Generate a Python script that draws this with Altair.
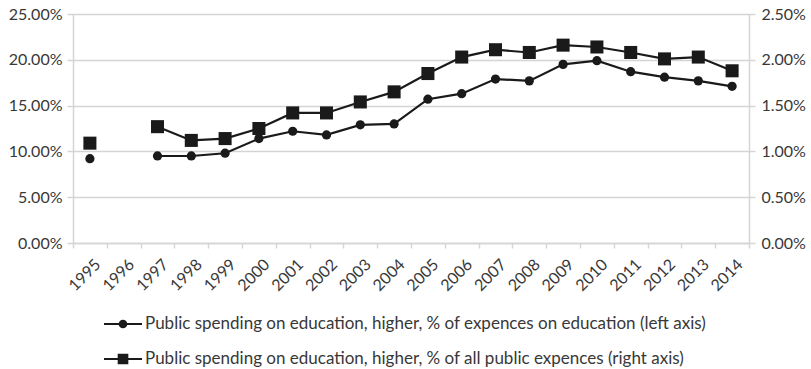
import altair as alt
import pandas as pd

years = ["1995", "1996", "1997", "1998", "1999", "2000", "2001", "2002", "2003", "2004",
         "2005", "2006", "2007", "2008", "2009", "2010", "2011", "2012", "2013", "2014"]
share_edu = [9.2, None, 9.5, 9.5, 9.8, 11.4, 12.2, 11.8, 12.9, 13.0,
             15.7, 16.3, 17.9, 17.7, 19.5, 19.9, 18.7, 18.1, 17.7, 17.1]
share_public = [1.09, None, 1.27, 1.12, 1.14, 1.25, 1.42, 1.42, 1.54, 1.65,
                1.85, 2.03, 2.11, 2.08, 2.16, 2.14, 2.08, 2.01, 2.03, 1.88]
left_ticks = [0, 5, 10, 15, 20, 25]
right_ticks = [0, 0.5, 1.0, 1.5, 2.0, 2.5]
lab1 = "Public spending on education, higher, % of expences on education (left axis)"
lab2 = "Public spending on education, higher, % of all public expences (right axis)"

INK = "#1a1a1a"
GRID = "#d4d4d4"
TXT = "#383838"
FONT = "Lato"

df = pd.DataFrame({"year": years, "edu": share_edu, "pub": share_public})
df["seg"] = df["edu"].isna().cumsum()
df = df.dropna()

xenc = alt.X(
    "year:N",
    scale=alt.Scale(type="band", domain=years, paddingInner=0, paddingOuter=0),
    bandPosition=0.5,
    axis=alt.Axis(title=None, labelAngle=-45, labelAlign="right", labelBaseline="top",
                  tickBand="extent", tickSize=5, tickColor=GRID, tickWidth=1.5,
                  domainColor=GRID, domainWidth=1.5, labelPadding=8, labelOffset=2,
                  labelFont=FONT, labelFontSize=16, labelColor=TXT, grid=False),
)

base_l = alt.Chart(df).encode(
    x=xenc,
    y=alt.Y("edu:Q", scale=alt.Scale(domain=[0, 25], nice=False, zero=True),
            axis=alt.Axis(orient="left", title=None, values=left_ticks,
                          labelExpr="format(datum.value, '.2f') + '%'",
                          grid=True, gridColor=GRID, gridWidth=1.5,
                          domainColor=GRID, domainWidth=1.5,
                          tickColor=GRID, tickWidth=1.5, tickSize=6, labelPadding=5,
                          labelFont=FONT, labelFontSize=16, labelColor=TXT)),
    detail="seg:N",
)
left = alt.layer(
    base_l.mark_line(color=INK, strokeWidth=2.2),
    base_l.mark_point(shape="circle", filled=True, size=85, color=INK, opacity=1),
)

base_r = alt.Chart(df).encode(
    x=xenc,
    y=alt.Y("pub:Q", scale=alt.Scale(domain=[0, 2.5], nice=False, zero=True),
            axis=alt.Axis(orient="right", title=None, values=right_ticks,
                          labelExpr="format(datum.value, '.2f') + '%'",
                          grid=False, domainColor=GRID, domainWidth=1.5,
                          tickColor=GRID, tickWidth=1.5, tickSize=6, labelPadding=6,
                          labelFont=FONT, labelFontSize=16, labelColor=TXT)),
    detail="seg:N",
)
right = alt.layer(
    base_r.mark_line(color=INK, strokeWidth=2.2),
    base_r.mark_point(shape="square", filled=True, size=170, color=INK, opacity=1),
)

path1 = ("M-1,-0.055L1,-0.055L1,0.055L-1,0.055Z"
         "M0.23,0A0.23,0.23,0,1,1,-0.23,0A0.23,0.23,0,1,1,0.23,0Z")
path2 = ("M-1,-0.055L1,-0.055L1,0.055L-1,0.055Z"
         "M-0.28,-0.28L0.28,-0.28L0.28,0.28L-0.28,0.28Z")

leg_df = pd.DataFrame({"label": [lab1, lab2]})
legend_layer = alt.Chart(leg_df).mark_point(filled=True, color=INK, opacity=0).encode(
    shape=alt.Shape("label:N",
                    scale=alt.Scale(domain=[lab1, lab2], range=[path1, path2]),
                    legend=alt.Legend(title=None, orient="none", legendX=31, legendY=291,
                                      direction="vertical", symbolSize=1444,
                                      symbolOpacity=1, symbolFillColor=INK,
                                      symbolStrokeWidth=0,
                                      labelOffset=3, rowPadding=8, padding=0,
                                      labelFont=FONT, labelFontSize=17, labelColor=TXT,
                                      labelLimit=0))
)

chart = alt.layer(left, right, legend_layer).resolve_scale(
    y="independent", shape="independent"
).properties(
    width=676, height=229,
    autosize=alt.AutoSizeParams(type="none"),
    padding={"left": 73, "top": 14, "right": 62, "bottom": 126},
    background="white",
).configure_view(stroke=None)

chart.save("out.html", embed_options={"renderer": "svg", "actions": False})
